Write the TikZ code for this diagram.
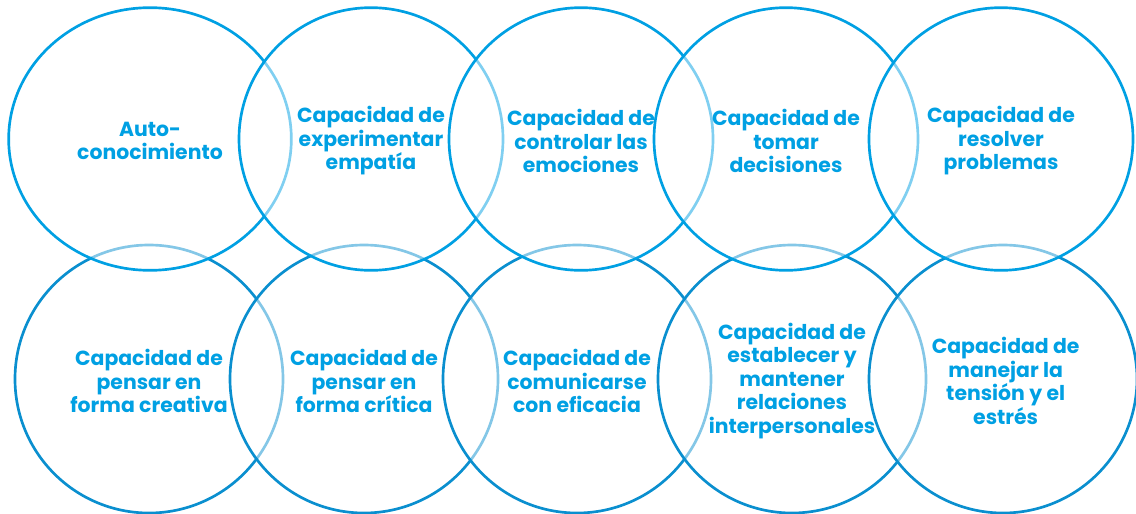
\documentclass[tikz,border=0pt]{standalone}
\usepackage{fontspec}
\setmainfont{Poppins}
\usetikzlibrary{shapes.geometric}
\definecolor{skillblue}{HTML}{00A0E3}
\definecolor{skilldark}{HTML}{0A8FCF}
\begin{document}
\begin{tikzpicture}[x=0.75pt, y=-0.75pt,
	bubble/.style = {shape=ellipse, draw=skillblue, line width=2pt,
		fill=white, fill opacity=0.5, draw opacity=1, inner sep=0pt,
		minimum width=198pt, minimum height=197pt},
	lowbubble/.style = {bubble, draw=skilldark,
		minimum width=201pt, minimum height=201pt},
	skilltext/.style = {text=skillblue, align=center, yshift=-1.5pt,
		font=\bfseries\fontsize{15.3}{17.6}\selectfont}]
	\useasboundingbox (0,0) rectangle (1136,514);
	% lower row first, upper row on top
	\node[lowbubble] (c6) at (149,379) {};
	\node[lowbubble] (c7) at (364,379) {};
	\node[lowbubble] (c8) at (577,379) {};
	\node[lowbubble] (c9) at (792,379) {};
	\node[lowbubble] (c10) at (1003,379) {};
	\node[bubble, minimum width=212pt] (c1) at (150,139) {};
	\node[bubble] (c2) at (371,139) {};
	\node[bubble] (c3) at (581,139) {};
	\node[bubble] (c4) at (786,139) {};
	\node[bubble] (c5) at (1001,139) {};
	% texts
	\node[skilltext] (t1) at (c1) {Auto-\\conocimiento};
	\node[skilltext] (t2) at (c2) {Capacidad de\\experimentar\\empatía};
	\node[skilltext] (t3) at (c3) {Capacidad de\\controlar las\\emociones};
	\node[skilltext] (t4) at (c4) {Capacidad de\\tomar\\decisiones};
	\node[skilltext] (t5) at (c5) {Capacidad de\\resolver\\problemas};
	\node[skilltext] (t6) at (c6) {Capacidad de\\pensar en\\forma creativa};
	\node[skilltext] (t7) at (c7) {Capacidad de\\pensar en\\forma crítica};
	\node[skilltext] (t8) at (c8) {Capacidad de\\comunicarse\\con eficacia};
	\node[skilltext] (t9) at (c9) {Capacidad de\\establecer y\\mantener\\relaciones\\interpersonales};
	\node[skilltext, xshift=2pt] (t10) at (c10) {Capacidad de\\manejar la\\tensión y el\\estrés};
\end{tikzpicture}
\end{document}
